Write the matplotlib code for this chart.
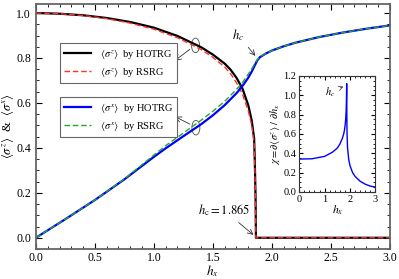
import matplotlib
matplotlib.use("Agg")
import matplotlib.pyplot as plt
from matplotlib.patches import Ellipse
from matplotlib.ticker import MultipleLocator

plt.rcParams['font.family'] = ['Liberation Serif', 'DejaVu Serif']
plt.rcParams['mathtext.fontset'] = 'stix'

# <sigma^z> curves
hz_hot = [0, 0.2, 0.4, 0.6, 0.8, 1.0, 1.2, 1.4, 1.5, 1.6, 1.65, 1.7, 1.75, 1.8, 1.83,
          1.85, 1.855, 1.862, 1.865, 2.0, 2.5, 3.0]
sz_hot = [1.0, 0.997, 0.99, 0.978, 0.96, 0.935, 0.898, 0.848, 0.815, 0.775, 0.748, 0.712,
          0.665, 0.59, 0.52, 0.44, 0.35, 0.18, 0.0, 0.0, 0.0, 0.0]
hz_rs = [0, 0.2, 0.4, 0.6, 0.8, 1.0, 1.2, 1.4, 1.5, 1.6, 1.65, 1.7, 1.75, 1.8, 1.83,
         1.85, 1.855, 1.862, 1.865, 2.0, 2.5, 3.0]
sz_rs = [1.0, 0.997, 0.989, 0.975, 0.955, 0.928, 0.89, 0.838, 0.803, 0.76, 0.73, 0.69,
         0.64, 0.565, 0.50, 0.42, 0.33, 0.16, 0.0, 0.0, 0.0, 0.0]

# <sigma^x> curves
hx_hot = [0, 0.25, 0.5, 0.75, 1.0, 1.1, 1.25, 1.4, 1.5, 1.6, 1.7, 1.75, 1.8, 1.83, 1.86,
          1.88, 1.9, 1.95, 2.0, 2.1, 2.2, 2.4, 2.6, 2.8, 3.0]
sx_hot = [0, 0.083, 0.168, 0.26, 0.36, 0.398, 0.452, 0.505, 0.545, 0.59, 0.643, 0.675,
          0.712, 0.74, 0.772, 0.792, 0.804, 0.82, 0.833, 0.852, 0.868, 0.893, 0.913,
          0.93, 0.945]
sx_rs = [0, 0.083, 0.168, 0.262, 0.368, 0.41, 0.466, 0.523, 0.563, 0.607, 0.66, 0.69,
         0.728, 0.752, 0.779, 0.795, 0.806, 0.82, 0.833, 0.852, 0.868, 0.893, 0.913,
         0.93, 0.945]

# susceptibility (inset)
h_chi = [0, 0.5, 1.0, 1.3, 1.5, 1.6, 1.7, 1.75, 1.78, 1.81, 1.83, 1.845, 1.855, 1.862,
         1.867, 1.872, 1.88, 1.9, 1.95, 2.0, 2.1, 2.2, 2.4, 2.6, 2.8, 3.0]
chi = [0.34, 0.343, 0.368, 0.41, 0.454, 0.495, 0.557, 0.6, 0.64, 0.7, 0.76, 0.83, 0.92,
       1.02, 1.12, 0.85, 0.62, 0.46, 0.33, 0.27, 0.2, 0.16, 0.11, 0.08, 0.06, 0.05]

fig = plt.figure(figsize=(3.99, 2.79), dpi=100)
ax = fig.add_axes([0.090, 0.1075, 0.887, 0.878])

ax.plot(hz_hot, sz_hot, color='black', lw=1.6, label=r'$\langle\sigma^z\rangle$  by HOTRG')
ax.plot(hz_rs, sz_rs, color='#ff3030', lw=1.0, ls=(0, (4, 2)), label=r'$\langle\sigma^z\rangle$  by RSRG')
ax.plot(hx_hot, sx_hot, color='#0000ff', lw=1.6, label=r'$\langle\sigma^x\rangle$  by HOTRG')
ax.plot(hx_hot, sx_rs, color='#22aa22', lw=1.0, ls=(0, (4, 2)), label=r'$\langle\sigma^x\rangle$  by RSRG')

ax.set_xlim(0, 3.0)
ax.set_ylim(-0.05, 1.04)
ax.xaxis.set_major_locator(MultipleLocator(0.5))
ax.xaxis.set_minor_locator(MultipleLocator(0.1))
ax.yaxis.set_major_locator(MultipleLocator(0.2))
ax.yaxis.set_minor_locator(MultipleLocator(0.05))
ax.tick_params(which='both', direction='in', top=True, right=True, labelsize=8.5)
ax.tick_params(axis='x', pad=2)
ax.tick_params(which='major', length=4)
ax.tick_params(which='minor', length=2)
for s in ax.spines.values():
    s.set_color('0.4')
    s.set_linewidth(1.3)
ax.set_xlabel(r'$h_x$', fontsize=9.5)
ax.xaxis.set_label_coords(0.5, -0.058)
ax.set_ylabel(r'$\langle\sigma^z\rangle$  &  $\langle\sigma^x\rangle$', fontsize=9)
ax.yaxis.set_label_coords(-0.055, 0.5)

h = ax.get_legend_handles_labels()
leg1 = ax.legend(h[0][:2], h[1][:2], loc='upper left', bbox_to_anchor=(0.068, 0.84),
                 borderaxespad=0, fontsize=7.5, fancybox=False, edgecolor='0.4',
                 handlelength=2.6, framealpha=1)
leg1.get_frame().set_linewidth(0.8)
ax.add_artist(leg1)
leg2 = ax.legend(h[0][2:], h[1][2:], loc='upper left', bbox_to_anchor=(0.068, 0.62),
                 borderaxespad=0, fontsize=7.5, fancybox=False, edgecolor='0.4',
                 handlelength=2.6, framealpha=1)
leg2.get_frame().set_linewidth(0.8)

# ellipses and arrows to the legends
for (cx, cy), (tx, ty) in [((1.353, 0.856), (1.157, 0.78)), ((1.356, 0.49), (1.158, 0.545))]:
    ax.add_patch(Ellipse((cx, cy), 0.068, 0.065, fill=False, lw=0.6, color='0.3'))
    ax.annotate('', xy=(tx, ty), xytext=(cx - 0.03, cy - 0.01 if ty < cy else cy + 0.01),
                arrowprops=dict(arrowstyle='->', lw=0.6, color='0.2'))

ax.annotate(r'$h_c$', xy=(1.875, 0.8), xytext=(1.66, 0.885), fontsize=9,
            arrowprops=dict(arrowstyle='->', lw=0.6, color='0.2'))
ax.annotate(r'$h_\mathrm{c} = 1.865$', xy=(1.862, 0.005), xytext=(1.37, 0.105), fontsize=9,
            arrowprops=dict(arrowstyle='->', lw=0.6, color='0.2', shrinkA=2))

# inset
ins = fig.add_axes([0.750, 0.312, 0.191, 0.416])
ins.plot(h_chi, chi, color='#0000ff', lw=1.0)
ins.set_xlim(0, 3)
ins.set_ylim(0, 1.2)
ins.xaxis.set_major_locator(MultipleLocator(1))
ins.xaxis.set_minor_locator(MultipleLocator(0.2))
ins.yaxis.set_major_locator(MultipleLocator(0.2))
ins.yaxis.set_minor_locator(MultipleLocator(0.05))
ins.tick_params(which='both', direction='in', top=True, right=True, labelsize=7.5, pad=2)
ins.tick_params(which='major', length=3)
ins.tick_params(which='minor', length=1.5)
for s in ins.spines.values():
    s.set_color('0.2')
    s.set_linewidth(0.8)
ins.set_xlabel(r'$h_x$', fontsize=8.5, labelpad=0)
ins.set_ylabel(r'$\chi = \partial\langle\sigma^z\rangle\ /\ \partial h_x$', fontsize=7.5, labelpad=1)
ins.annotate(r'$h_c$', xy=(1.84, 1.1), xytext=(1.0, 1.0), fontsize=7.5,
             arrowprops=dict(arrowstyle='->', lw=0.5, color='0.2'))

fig.savefig('out.png', dpi=100)
